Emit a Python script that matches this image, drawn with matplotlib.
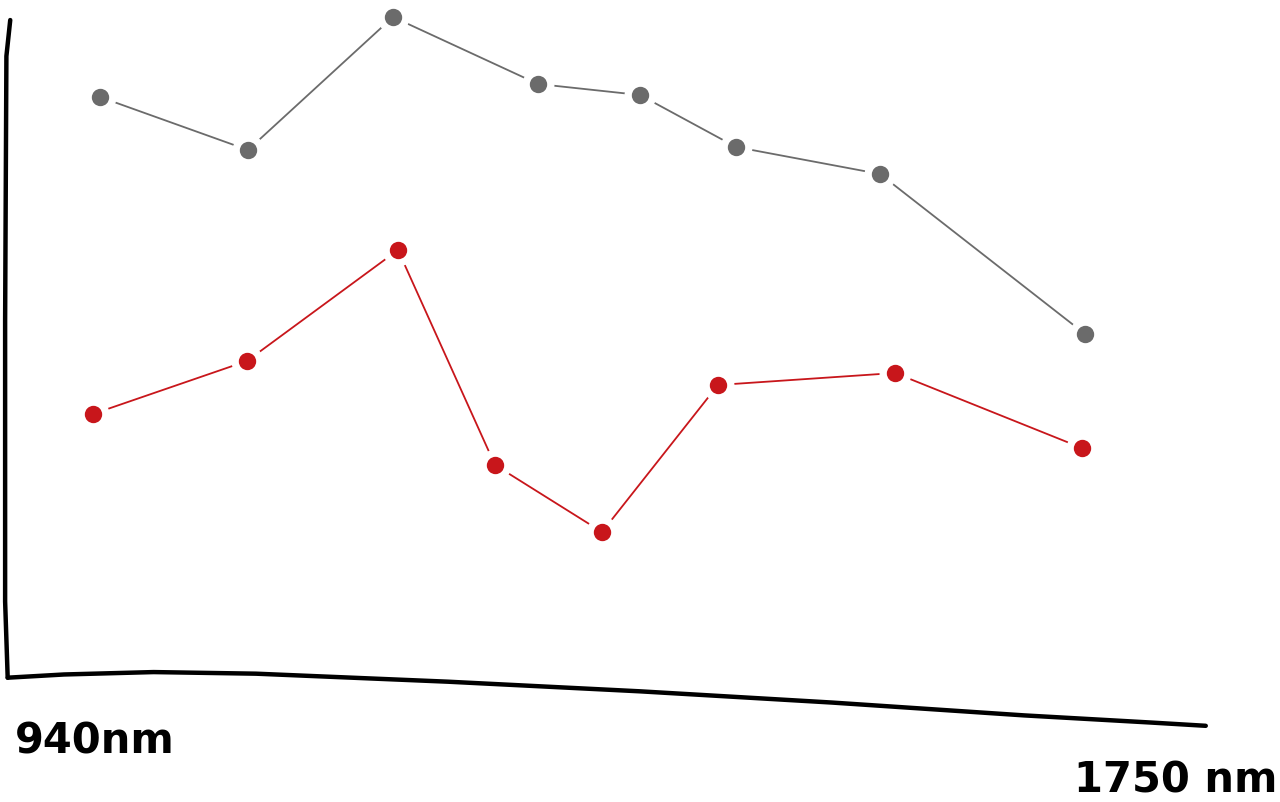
import matplotlib
matplotlib.use("Agg")
import matplotlib.pyplot as plt
import numpy as np

# Data (x in arbitrary horizontal units, y in arbitrary vertical units)
gray_x = [100, 248, 393, 538, 640, 736, 880, 1085]
gray_y = [705, 652, 785, 718, 707, 655, 628, 468]
red_x = [93, 247, 398, 495, 602, 718, 895, 1082]
red_y = [388, 441, 552, 337, 270, 417, 429, 354]

x_start_label = "940nm"
x_end_label = "1750 nm"

GRAY = "#6b6b6b"
RED = "#c8161b"

fig = plt.figure(figsize=(12.8, 8.02), dpi=100)
ax = fig.add_axes([0, 0, 1, 1])
ax.set_xlim(0, 1280)
ax.set_ylim(0, 802)
ax.axis("off")

for xs, ys, c in [(gray_x, gray_y, GRAY), (red_x, red_y, RED)]:
    ax.plot(xs, ys, color=c, lw=1.3, zorder=2)
    ax.plot(xs, ys, ls="none", marker="o", ms=22, mfc="white", mec="white", zorder=3)
    ax.plot(xs, ys, ls="none", marker="o", ms=11, mfc=c, mec=c, mew=1.5, zorder=4)

# Hand-drawn style axes (decoration in axes-fraction coordinates)
tr = ax.transAxes
ax.plot([0.008, 0.005, 0.004, 0.004, 0.006], [0.975, 0.93, 0.6, 0.25, 0.155],
        color="black", lw=3.2, transform=tr, solid_capstyle="round")
axis_x = np.array([0.006, 0.05, 0.12, 0.2, 0.35, 0.5, 0.65, 0.8, 0.9, 0.942])
axis_y = np.array([0.155, 0.159, 0.162, 0.16, 0.15, 0.138, 0.124, 0.108, 0.099, 0.095])
ax.plot(axis_x, axis_y, color="black", lw=3.2, transform=tr, solid_capstyle="round")

ax.text(0.012, 0.075, x_start_label, transform=tr, fontsize=30, fontweight="bold",
        ha="left", va="center", color="black")
ax.text(0.998, 0.027, x_end_label, transform=tr, fontsize=30, fontweight="bold",
        ha="right", va="center", color="black")

fig.savefig("out.png", dpi=100, facecolor="white")
